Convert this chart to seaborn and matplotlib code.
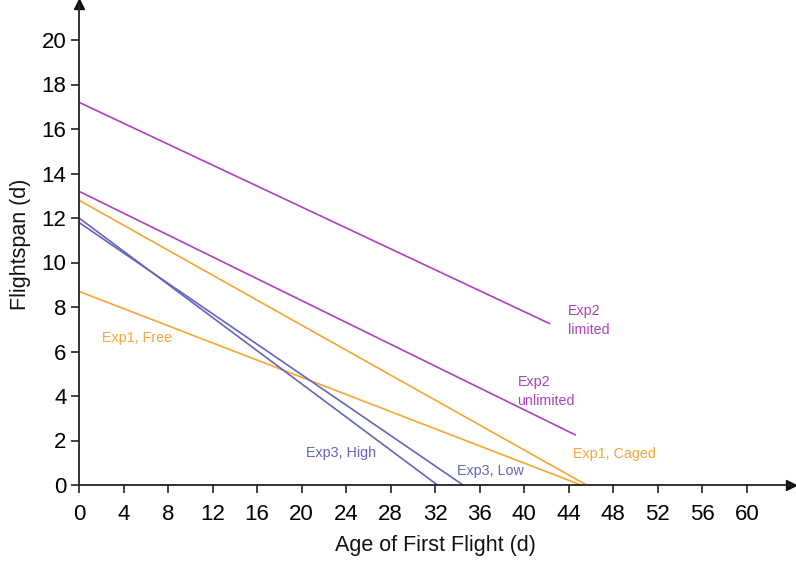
import matplotlib
matplotlib.use("Agg")
import matplotlib.pyplot as plt
import seaborn as sns
import pandas as pd

sns.set_style("white")
plt.rcParams['font.family'] = ['Liberation Sans', 'DejaVu Sans']

# Data: each series is a straight regression line (start, end)
series = ["Exp2 limited", "Exp2 unlimited", "Exp1 Caged", "Exp1 Free", "Exp3 High", "Exp3 Low"]
x_start = [0, 0, 0, 0, 0, 0]
x_end = [42.3, 44.6, 45.6, 45.1, 32.2, 34.5]
y_start = [17.2, 13.2, 12.8, 8.7, 12.0, 11.8]
y_end = [7.25, 2.25, 0.0, 0.0, 0.0, 0.0]

label_texts = ["Exp2\nlimited", "Exp2\nunlimited", "Exp1, Caged", "Exp1, Free", "Exp3, High", "Exp3, Low"]
label_x = [43.9, 39.4, 44.4, 2.1, 20.4, 34.0]
label_y = [7.4, 4.2, 1.4, 6.6, 1.45, 0.65]

x_ticks = list(range(0, 61, 4))
y_ticks = list(range(0, 21, 2))

magenta = "#B040BE"
orange = "#F7A535"
blue = "#6464BC"
palette = {"Exp2 limited": magenta, "Exp2 unlimited": magenta,
           "Exp1 Caged": orange, "Exp1 Free": orange,
           "Exp3 High": blue, "Exp3 Low": blue}

rows = []
for s, xs, xe, ys, ye in zip(series, x_start, x_end, y_start, y_end):
    rows.append({"series": s, "x": xs, "y": ys})
    rows.append({"series": s, "x": xe, "y": ye})
df = pd.DataFrame(rows)

fig = plt.figure(figsize=(7.96, 5.61), dpi=100)
W, H = 796, 561
x0, y0 = 79, 485
xmax, ymax = 64.0, 21.6
pxx, pxy = 11.13, 22.25
ax = fig.add_axes([x0 / W, (H - y0) / H, xmax * pxx / W, ymax * pxy / H])

sns.lineplot(data=df, x="x", y="y", hue="series", palette=palette,
             units="series", estimator=None, sort=False, legend=False,
             linewidth=1.2, ax=ax)

ax.set_xlim(0, xmax)
ax.set_ylim(0, ymax)
ax.set_xticks(x_ticks)
ax.set_yticks(y_ticks)
ax.tick_params(axis='both', which='major', labelsize=16, length=6, width=1.2,
               color="#222222", labelcolor="#000000", direction='out',
               bottom=True, left=True)
ax.tick_params(axis='x', pad=8)
ax.tick_params(axis='y', pad=3)

for side in ["top", "right"]:
    ax.spines[side].set_visible(False)
for side in ["bottom", "left"]:
    ax.spines[side].set_color("#222222")
    ax.spines[side].set_linewidth(1.3)

# arrow heads on axes
ax.plot(1, 0, ">", color="#111111", markersize=7, transform=ax.transAxes, clip_on=False)
ax.plot(0, 1, "^", color="#111111", markersize=7, transform=ax.transAxes, clip_on=False)

ax.set_xlabel("Age of First Flight (d)", fontsize=15.5, labelpad=7, color="#111111")
ax.set_ylabel("Flightspan (d)", fontsize=15.5, labelpad=8, color="#111111")

label_colors = [magenta, magenta, orange, orange, blue, blue]
for t, lx, ly, c in zip(label_texts, label_x, label_y, label_colors):
    ax.text(lx, ly, t, color=c, fontsize=10.3, ha="left", va="center", linespacing=1.45)

fig.savefig("out.png", dpi=100)
